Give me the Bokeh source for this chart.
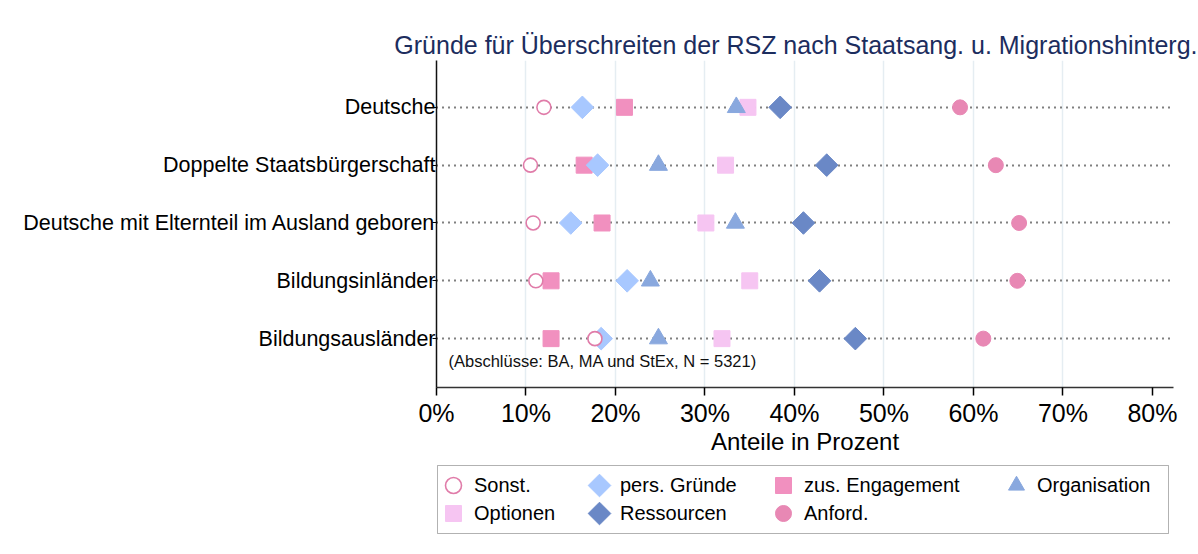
import math
from bokeh.plotting import figure
from bokeh.layouts import column
from bokeh.models import (Range1d, FixedTicker, Legend, LegendItem, Label,
                          ColumnDataSource, BoxAnnotation)
from bokeh.embed import file_html
from bokeh.resources import INLINE

# ---- data -------------------------------------------------------------
categories = ["Deutsche", "Doppelte Staatsbürgerschaft",
              "Deutsche mit Elternteil im Ausland geboren",
              "Bildungsinländer", "Bildungsausländer"]
sonst   = [12.0, 10.5, 10.8, 11.1, 17.7]
pers    = [16.3, 18.0, 15.0, 21.3, 18.4]
zus     = [21.0, 16.5, 18.5, 12.8, 12.8]
orga    = [33.5, 24.8, 33.4, 23.9, 24.8]
opt     = [34.8, 32.3, 30.1, 35.0, 31.9]
ress    = [38.4, 43.6, 41.0, 42.8, 46.8]
anford  = [58.5, 62.5, 65.1, 64.9, 61.1]
x_ticks = [0, 10, 20, 30, 40, 50, 60, 70, 80]
x_tick_labels = ["0%", "10%", "20%", "30%", "40%", "50%", "60%", "70%", "80%"]
title_text = "Gründe für Überschreiten der RSZ nach Staatsang. u. Migrationshinterg."
note_text = "(Abschlüsse: BA, MA und StEx, N = 5321)"
legend_labels = ["Sonst.", "pers. Gründe", "zus. Engagement", "Organisation",
                 "Optionen", "Ressourcen", "Anford."]

FONT = "Liberation Sans"
n = len(categories)
ypos = [n - i for i in range(n)]

# styles per series (same order as legend_labels)
styles = [
    dict(marker="circle", size=14, fill_color="white", line_color="#e07ca9", line_width=1.6),
    dict(marker="square", size=16, angle=math.pi / 4, fill_color="#a8c8ff", line_color="#a8c8ff"),
    dict(marker="square", size=16, fill_color="#f190bf", line_color="#f190bf"),
    dict(marker="triangle", size=18, fill_color="#89a8de", line_color="#89a8de"),
    dict(marker="square", size=16, fill_color="#f6c5f2", line_color="#f6c5f2"),
    dict(marker="square", size=16, angle=math.pi / 4, fill_color="#6a88c6", line_color="#6a88c6"),
    dict(marker="circle", size=15, fill_color="#e888b4", line_color="#e888b4"),
]
series_cols = ["sonst", "pers", "zus", "orga", "opt", "ress", "anford"]
draw_order = [4, 2, 1, 3, 5, 6, 0]

W, H = 1198, 460
p = figure(width=W, height=H, output_backend="svg", toolbar_location=None,
           x_range=Range1d(0, 82.35), y_range=Range1d(0.155, 5.81),
           min_border_left=436, min_border_right=W - 1173,
           min_border_top=60, min_border_bottom=H - 387)
p.outline_line_color = None
p.background_fill_color = "white"
p.border_fill_color = "white"

# title
p.title.text = title_text
p.title.align = "right"
p.title.text_font = FONT
p.title.text_font_size = "25px"
p.title.text_font_style = "normal"
p.title.text_color = "#1c2d5e"
p.title.offset = -24
p.title.standoff = 4

# grids
p.xgrid.ticker = FixedTicker(ticks=x_ticks[1:-1])
p.xgrid.grid_line_color = "#e5edf2"
p.xgrid.grid_line_width = 1.5
p.ygrid.ticker = FixedTicker(ticks=ypos)
p.ygrid.grid_line_color = "black"
p.ygrid.grid_line_width = 1.8
p.ygrid.grid_line_dash = "1 5"

# axes
p.xaxis.ticker = FixedTicker(ticks=x_ticks)
p.xaxis.major_label_overrides = dict(zip(x_ticks, x_tick_labels))
p.xaxis.axis_label = "Anteile in Prozent"
p.xaxis.axis_label_text_font = FONT
p.xaxis.axis_label_text_font_size = "24px"
p.xaxis.axis_label_text_font_style = "normal"
p.xaxis.axis_label_text_color = "black"
p.xaxis.axis_label_standoff = -2
p.xaxis.major_label_text_font = FONT
p.xaxis.major_label_text_font_size = "25px"
p.xaxis.major_label_text_color = "black"
p.xaxis.major_tick_out = 8
p.xaxis.major_tick_in = 0
p.xaxis.minor_tick_line_color = None
p.xaxis.axis_line_width = 1.5
p.xaxis.axis_line_color = "#333333"
p.xaxis.major_tick_line_width = 1.5
p.xaxis.major_label_standoff = 3

p.yaxis.ticker = FixedTicker(ticks=ypos)
p.yaxis.major_label_overrides = dict(zip(ypos, categories))
p.yaxis.major_label_text_font = FONT
p.yaxis.major_label_text_font_size = "21.5px"
p.yaxis.major_label_text_color = "black"
p.yaxis.major_tick_out = 4
p.yaxis.major_tick_in = 0
p.yaxis.minor_tick_line_color = None
p.yaxis.major_label_standoff = -3
p.yaxis.axis_line_width = 1.5
p.yaxis.axis_line_color = "#111111"

src = ColumnDataSource(dict(y=ypos, sonst=sonst, pers=pers, zus=zus, orga=orga,
                            opt=opt, ress=ress, anford=anford))
for i in draw_order:
    p.scatter(series_cols[i], "y", source=src, **styles[i])

p.add_layout(Label(x=1.34, y=0.62, text=note_text, text_font=FONT,
                   text_font_size="16.5px", text_baseline="middle", text_color="#111111"))

# ---- legend panel (separate figure below; its frame aligns with the plot frame,
#      data units = page pixels) -------------------------------------------
LH = 94
FRAME_LEFT = 436
GLYPH = 40
q = figure(width=W, height=LH, output_backend="svg", toolbar_location=None,
           x_range=Range1d(FRAME_LEFT, 1173), y_range=Range1d(0, LH),
           x_axis_location=None, y_axis_location=None,
           min_border_left=0, min_border_right=0, min_border_top=0, min_border_bottom=0)
q.outline_line_color = None
q.grid.visible = False
q.background_fill_color = "white"
q.border_fill_color = "white"

# item grid: (row bottom, column left) in frame-relative pixels
row_bottom = [49, 49, 49, 49, 21, 21, 21]
col_left = [-3, 143, 327, 560, -3, 143, 327]

# legend glyph sources: one point each, kept outside the visible range
hidden = ColumnDataSource(dict(x=[-1e6], y=[-1e6]))
leg_r = []
rotated = []
for i, st in enumerate(styles):
    if "angle" in st:
        # Bokeh's legend never rotates markers, so the rotated-square symbol
        # is drawn at the legend glyph slot and the legend entry itself is blank.
        blank = dict(st, fill_alpha=0, line_alpha=0)
        leg_r.append(q.scatter("x", "y", source=hidden, **blank))
        rotated.append(i)
    else:
        leg_r.append(q.scatter("x", "y", source=hidden, **st))
for i in rotated:
    cx = FRAME_LEFT + col_left[i] + GLYPH / 2
    cy = row_bottom[i] + GLYPH / 2
    q.scatter([cx], [cy], **styles[i])

for i, lab in enumerate(legend_labels):
    lg = Legend(items=[LegendItem(label=lab, renderers=[leg_r[i]])],
                orientation="vertical", location=(col_left[i], row_bottom[i]))
    lg.label_text_font = FONT
    lg.label_text_font_size = "20px"
    lg.label_text_color = "black"
    lg.border_line_color = None
    lg.background_fill_alpha = 0
    lg.glyph_width = GLYPH
    lg.glyph_height = GLYPH
    lg.label_standoff = 1
    lg.padding = 0
    lg.spacing = 0
    lg.margin = 0
    q.add_layout(lg)

q.add_layout(BoxAnnotation(left=437, right=1168, top=89, bottom=21,
                           fill_color=None, line_color="black", line_width=1,
                           level="overlay"))

layout = column(p, q, spacing=0)
open("out.html", "w").write(file_html(layout, INLINE))
